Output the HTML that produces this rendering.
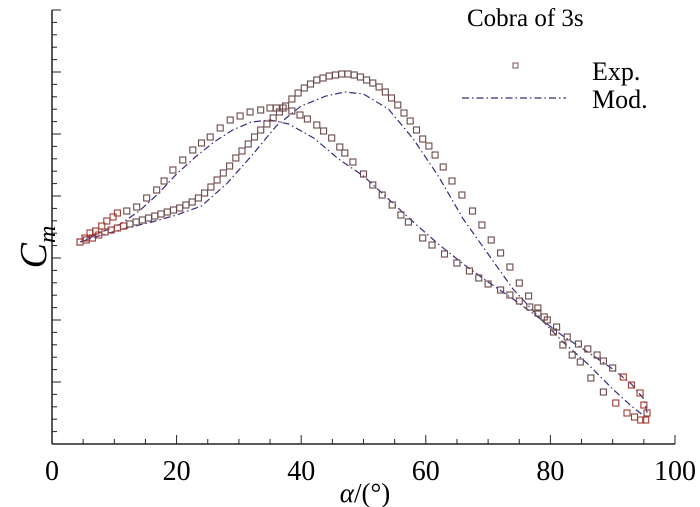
<!DOCTYPE html>
<html><head><meta charset="utf-8"><style>
html,body{margin:0;padding:0;background:#fff;}
svg{display:block;font-family:"Liberation Serif",serif;}
</style></head><body>
<svg id="chart" width="700" height="507" viewBox="0 0 700 507">
<g id="axes"></g>
<g id="series"></g>
<g>
<text x="467" y="26" font-size="25">Cobra of 3s</text>
<rect x="513" y="63" width="5" height="5" fill="none" stroke="#7a5555" stroke-width="1"/>
<text x="592" y="80" font-size="26">Exp.</text>
<line x1="462" y1="98" x2="566" y2="98" stroke="#3c2a7a" stroke-width="1.3" stroke-dasharray="7,3,1.5,3"/>
<text x="592" y="108" font-size="26">Mod.</text>
</g>
<text x="365" y="502" font-size="27" text-anchor="middle"><tspan font-style="italic">α</tspan>/(°)</text>
<text transform="translate(46,247) rotate(-90)" font-size="38" text-anchor="middle"><tspan font-style="italic">C</tspan><tspan font-style="italic" font-size="24" dy="9">m</tspan></text>
</svg>
<script>
const xTicks = [0,20,40,60,80,100];
const yMajor = [0,62,124,186,248,310,372,434];
// Experimental data (alpha, Cm in arbitrary axis units)
const expAlphaA = [4.5,5.5,6.5,7.5,8.5,9.5,10.5,11.5,12.5,13.5,14.5,15.5,16.5,17.5,18.5,19.5,20.5,21.5,22.5,23.5,24.5,25.5,26.5,27.5,28.5,29.5,30.5,31.5,32.5,33.5,34.5,35.5,36.5,37.5,38.5,39.5,40.5,41.5,42.5,43.5,44.5,45.5,46.5,47.5,48.5,49.5,50.5,51.5,52.5,53.5,54.5,55.5,56.5,57.5,58.5,59.5,60.5,61.5,62.8,64.2,65.8,67.5,69,70.5,72,73.5,75,76.5,78,79,80.5,82,83.5,84.8,86.5,88.5,90.5,92.3,93.5,94.5,95.3];
const expCmA = [202,204,206,209,212,214,216,218,220,222,224,226,228,230,232,234,236,239,242,246,251,257,264,271,278,286,293,300,307,314,320,326,332,338,345,351,356,360,364,366,368,369,370,370,369,367,364,361,357,352,346,339,331,323,314,305,298,289,277,263,249,233,219,204,191,177,161,148,136,127,112,99,89,82,66,52,41,31,27,24,24];
const expAlphaB = [95.5,95,94.4,93,91.7,90,88.5,87.5,86,84.5,82.7,81,79.5,78,76.7,75,73.5,72,70,68.5,67,65,63,61,59.5,57.2,56,54.6,53,51.5,50,48.3,47,46.2,44.9,43.6,42.5,41,39.8,38.5,37.1,36,35,33.5,31.8,30.2,28.6,27,25.4,24,22.6,21,19.4,18,16.8,15.2,13.6,12,10.5,9.8,8.8,8,7,6.1,5.3,4.5];
const expCmB = [31,39,51,59,67,76,83,89,95,100,107,117,124,131,137,143,149,154,160,166,173,181,190,199,206,222,229,239,249,259,270,282,291,297,306,313,319,325,329,333,336,336,336,334,332,328,324,316,307,301,294,284,274,263,254,246,237,233,231,227,223,218,213,211,206,202];
// Model data
const modAlpha = [4.5,8,12,16,20,24,28,32,36,40,44,47,50,54,58,62,66,70,74,78,82,86,90,93,95,95.5,95,93,90,86,82,78,74,70,66,62,58,54,50,46,42,38,35,32,29,26,23,20,17,14,11,8,6,4.5];
const modCm = [202,209,216,222,229,238,260,288,318,338,348,352,350,335,305,268,225,190,155,128,102,80,55,38,28,32,45,60,75,92,108,127,145,162,180,200,222,245,268,285,306,320,324,322,314,302,287,270,250,233,220,212,206,202];

const X0=52, X1=675, Y0=444, Y1=10;
const xs = a => X0 + (a-0)/(100-0)*(X1-X0);
const ys = v => Y0 - v/434*(Y0-Y1);
const NS="http://www.w3.org/2000/svg";
const axes=document.getElementById('axes'), ser=document.getElementById('series');
function mk(tag, attrs, parent){const e=document.createElementNS(NS,tag);for(const k in attrs)e.setAttribute(k,attrs[k]);parent.appendChild(e);return e;}

let e=mk('line',{x1:X0,y1:Y0,x2:X1,y2:Y0,stroke:'#222','stroke-width':1.5},axes);


e=mk('line',{x1:X0,y1:Y0,x2:X0,y2:Y1,stroke:'#222','stroke-width':1.5},axes);


for(let a=0;a<=100;a+=5){
  const major = a%20===0;
  e=mk('line',{x1:xs(a),y1:Y0,x2:xs(a),y2:Y0-(major?9:5),stroke:'#222','stroke-width':1},axes);
  
  
}
xTicks.forEach(t=>{
  const tx=mk('text',{x:xs(t),y:480,'font-size':28,'text-anchor':'middle'},axes);
  tx.textContent=t;
  
  
});
for(let i=0;i<yMajor.length;i++){
  e=mk('line',{x1:X0,y1:ys(yMajor[i]),x2:X0+9,y2:ys(yMajor[i]),stroke:'#222','stroke-width':1},axes);
  
  
  if(i<yMajor.length-1){
    for(let k=1;k<5;k++){
      const v=yMajor[i]+(yMajor[i+1]-yMajor[i])*k/5;
      e=mk('line',{x1:X0,y1:ys(v),x2:X0+5,y2:ys(v),stroke:'#222','stroke-width':1},axes);
      
      
    }
  }
}
// model line
let d=modAlpha.map((a,i)=>(i?'L':'M')+xs(a).toFixed(1)+','+ys(modCm[i]).toFixed(1)).join(' ');
e=mk('path',{d:d,fill:'none',stroke:'#3c2a7a','stroke-width':1.2,'stroke-dasharray':'7,3,1.5,3'},ser);


// exp markers
function drawExp(al,cm){
  al.forEach((a,i)=>{
    const dense = a<12 || a>90;
    const r=mk('rect',{x:(xs(a)-3).toFixed(1),y:(ys(cm[i])-3).toFixed(1),width:6,height:6,fill:'none',stroke:dense?'#a03a34':'#6a4848','stroke-width':1.1},ser);
    
    
  });
}
drawExp(expAlphaA,expCmA);
drawExp(expAlphaB,expCmB);
</script>
</body></html>
